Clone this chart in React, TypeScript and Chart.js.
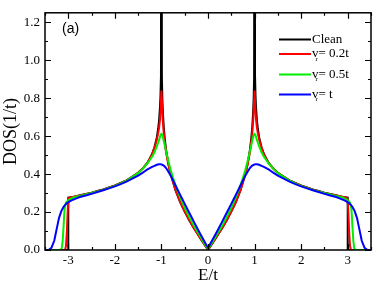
import { useEffect, useRef } from 'react';
import { Chart, registerables } from 'chart.js';

Chart.register(...registerables);

// ---- data ----
const xTickValues = [-3, -2, -1, 0, 1, 2, 3];
const yTickValues = [0, 0.2, 0.4, 0.6, 0.8, 1.0, 1.2];

const cleanE = [-3.5, -3.0, -3.0, -2.9, -2.75, -2.5, -2.25, -2.0, -1.75, -1.5, -1.4, -1.3, -1.2, -1.15, -1.1, -1.07, -1.05, -1.03, -1.02, -1.01, -1.0, -1.0, -0.99, -0.98, -0.97, -0.95, -0.93, -0.9, -0.85, -0.8, -0.7, -0.6, -0.5, -0.4, -0.3, -0.2, -0.1, 0,
  0.1, 0.2, 0.3, 0.4, 0.5, 0.6, 0.7, 0.8, 0.85, 0.9, 0.93, 0.95, 0.97, 0.98, 0.99, 1.0, 1.0, 1.01, 1.02, 1.03, 1.05, 1.07, 1.1, 1.15, 1.2, 1.3, 1.4, 1.5, 1.75, 2.0, 2.25, 2.5, 2.75, 2.9, 3.0, 3.0, 3.5];
const cleanDOS = [0, 0, 0.276, 0.280, 0.288, 0.302, 0.319, 0.340, 0.367, 0.407, 0.430, 0.460, 0.506, 0.541, 0.592, 0.639, 0.684, 0.756, 0.814, 0.916, 3.0, 3.0, 0.906, 0.796, 0.731, 0.647, 0.590, 0.527, 0.454, 0.399, 0.317, 0.254, 0.202, 0.156, 0.114, 0.075, 0.037, 0,
  0.037, 0.075, 0.114, 0.156, 0.202, 0.254, 0.317, 0.399, 0.454, 0.527, 0.590, 0.647, 0.731, 0.796, 0.906, 3.0, 3.0, 0.916, 0.814, 0.756, 0.684, 0.639, 0.592, 0.541, 0.506, 0.460, 0.430, 0.407, 0.367, 0.340, 0.319, 0.302, 0.288, 0.280, 0.276, 0, 0];

const red02E = [-3.5, -3.07, -3.05, -3.03, -3.01, -2.99, -2.9, -2.75, -2.5, -2.25, -2.0, -1.75, -1.5, -1.4, -1.3, -1.2, -1.15, -1.1, -1.07, -1.05, -1.03, -1.015, -1.0, -0.985, -0.97, -0.95, -0.93, -0.9, -0.85, -0.8, -0.7, -0.6, -0.5, -0.4, -0.3, -0.2, -0.1, 0,
  0.1, 0.2, 0.3, 0.4, 0.5, 0.6, 0.7, 0.8, 0.85, 0.9, 0.93, 0.95, 0.97, 0.985, 1.0, 1.015, 1.03, 1.05, 1.07, 1.1, 1.15, 1.2, 1.3, 1.4, 1.5, 1.75, 2.0, 2.25, 2.5, 2.75, 2.9, 2.99, 3.01, 3.03, 3.05, 3.07, 3.5];
const red02DOS = [0, 0, 0.02, 0.10, 0.22, 0.274, 0.279, 0.287, 0.301, 0.318, 0.339, 0.366, 0.406, 0.429, 0.459, 0.504, 0.538, 0.580, 0.615, 0.645, 0.690, 0.750, 0.840, 0.760, 0.680, 0.615, 0.570, 0.515, 0.449, 0.397, 0.317, 0.255, 0.203, 0.157, 0.115, 0.076, 0.038, 0.003,
  0.038, 0.076, 0.115, 0.157, 0.203, 0.255, 0.317, 0.397, 0.449, 0.515, 0.570, 0.615, 0.680, 0.760, 0.840, 0.750, 0.690, 0.645, 0.615, 0.580, 0.538, 0.504, 0.459, 0.429, 0.406, 0.366, 0.339, 0.318, 0.301, 0.287, 0.279, 0.274, 0.22, 0.10, 0.02, 0, 0];

const green05E = [-3.5, -3.17, -3.14, -3.12, -3.1, -3.08, -3.05, -3.0, -2.9, -2.75, -2.5, -2.25, -2.0, -1.75, -1.5, -1.4, -1.3, -1.2, -1.15, -1.1, -1.05, -1.02, -1.0, -0.98, -0.95, -0.9, -0.85, -0.8, -0.75, -0.7, -0.6, -0.5, -0.4, -0.3, -0.2, -0.1, 0,
  0.1, 0.2, 0.3, 0.4, 0.5, 0.6, 0.7, 0.75, 0.8, 0.85, 0.9, 0.95, 0.98, 1.0, 1.02, 1.05, 1.1, 1.15, 1.2, 1.3, 1.4, 1.5, 1.75, 2.0, 2.25, 2.5, 2.75, 2.9, 3.0, 3.05, 3.08, 3.1, 3.12, 3.14, 3.17, 3.5];
const green05DOS = [0, 0, 0.01, 0.05, 0.13, 0.215, 0.250, 0.262, 0.276, 0.285, 0.300, 0.317, 0.338, 0.365, 0.405, 0.429, 0.457, 0.492, 0.515, 0.545, 0.580, 0.605, 0.612, 0.605, 0.575, 0.520, 0.468, 0.420, 0.380, 0.343, 0.278, 0.222, 0.172, 0.127, 0.085, 0.043, 0.006,
  0.043, 0.085, 0.127, 0.172, 0.222, 0.278, 0.343, 0.380, 0.420, 0.468, 0.520, 0.575, 0.605, 0.612, 0.605, 0.580, 0.545, 0.515, 0.492, 0.457, 0.429, 0.405, 0.365, 0.338, 0.317, 0.300, 0.285, 0.276, 0.262, 0.250, 0.215, 0.13, 0.05, 0.01, 0, 0];

const blueTE = [-3.5, -3.42, -3.36, -3.3, -3.25, -3.2, -3.15, -3.1, -3.05, -3.0, -2.9, -2.75, -2.5, -2.25, -2.0, -1.75, -1.5, -1.4, -1.3, -1.2, -1.1, -1.05, -1.0, -0.95, -0.9, -0.8, -0.7, -0.6, -0.5, -0.4, -0.3, -0.2, -0.1, 0,
  0.1, 0.2, 0.3, 0.4, 0.5, 0.6, 0.7, 0.8, 0.9, 0.95, 1.0, 1.05, 1.1, 1.2, 1.3, 1.4, 1.5, 1.75, 2.0, 2.25, 2.5, 2.75, 2.9, 3.0, 3.05, 3.1, 3.15, 3.2, 3.25, 3.3, 3.36, 3.42, 3.5];
const blueTDOS = [0, 0, 0.012, 0.05, 0.11, 0.168, 0.205, 0.228, 0.243, 0.252, 0.265, 0.279, 0.296, 0.315, 0.335, 0.360, 0.392, 0.408, 0.425, 0.438, 0.449, 0.452, 0.451, 0.445, 0.432, 0.392, 0.341, 0.292, 0.243, 0.195, 0.147, 0.100, 0.055, 0.010,
  0.055, 0.100, 0.147, 0.195, 0.243, 0.292, 0.341, 0.392, 0.432, 0.445, 0.451, 0.452, 0.449, 0.438, 0.425, 0.408, 0.392, 0.360, 0.335, 0.315, 0.296, 0.279, 0.265, 0.252, 0.243, 0.228, 0.205, 0.168, 0.11, 0.05, 0.012, 0, 0];

const seriesNames = ['Clean', '0.2t', '0.5t', 't'];
const seriesColors = ['#000000', '#ff0000', '#00ee00', '#0000ff'];

const SERIF = "'Liberation Serif', 'Times New Roman', serif";
const SANS = "'Liberation Sans', Arial, sans-serif";

const toPoints = (xs: number[], ys: number[]) => xs.map((x, i) => ({ x, y: ys[i] }));

const framePlugin = {
  id: 'frameAndDecor',
  afterDraw(chart: any) {
    const { ctx, chartArea: a, scales } = chart;
    const xs = scales.x;
    const ys = scales.y;
    ctx.save();
    // frame
    ctx.strokeStyle = '#000';
    ctx.lineWidth = 1.5;
    ctx.strokeRect(a.left, a.top, a.right - a.left, a.bottom - a.top);
    // ticks (inward)
    ctx.lineWidth = 1.2;
    ctx.beginPath();
    for (let v = -3.5; v <= 3.5001; v += 0.5) {
      const px = Math.round(xs.getPixelForValue(v)) + 0.5;
      const major = Math.abs(v - Math.round(v)) < 1e-6;
      const len = major ? 6 : 3;
      ctx.moveTo(px, a.bottom); ctx.lineTo(px, a.bottom - len);
      ctx.moveTo(px, a.top); ctx.lineTo(px, a.top + len);
    }
    for (let k = 0; k <= 12; k++) {
      const v = k * 0.1;
      const py = Math.round(ys.getPixelForValue(v)) + 0.5;
      const len = k % 2 === 0 ? 6 : 3;
      ctx.moveTo(a.left, py); ctx.lineTo(a.left + len, py);
      ctx.moveTo(a.right, py); ctx.lineTo(a.right - len, py);
    }
    ctx.stroke();

    // axis titles
    ctx.fillStyle = '#000';
    ctx.textAlign = 'center';
    ctx.textBaseline = 'middle';
    ctx.font = `17px ${SERIF}`;
    ctx.fillText('E/t', (a.left + a.right) / 2, 276);
    ctx.save();
    ctx.translate(11, (a.top + a.bottom) / 2);
    ctx.rotate(-Math.PI / 2);
    ctx.font = `18px ${SERIF}`;
    ctx.fillText('DOS(1/t)', 0, 0);
    ctx.restore();

    // panel label
    ctx.textAlign = 'left';
    ctx.font = `14px ${SANS}`;
    ctx.fillText('(a)', 62, 29);

    // legend
    const rowsY = [39.5, 54, 74.5, 94.5];
    const lx0 = 279, lx1 = 311, tx = 312;
    for (let i = 0; i < seriesNames.length; i++) {
      const y = rowsY[i];
      ctx.strokeStyle = seriesColors[i];
      ctx.lineWidth = 2;
      ctx.beginPath();
      ctx.moveTo(lx0, y); ctx.lineTo(lx1, y);
      ctx.stroke();
      ctx.fillStyle = '#000';
      ctx.textBaseline = 'middle';
      ctx.font = `13px ${SERIF}`;
      if (i === 0) {
        ctx.fillText(seriesNames[i], tx, y);
      } else {
        ctx.fillText('v', tx, y);
        const vw = ctx.measureText('v').width;
        ctx.font = `7px ${SERIF}`;
        ctx.fillText('r', tx + vw - 3, y + 5);
        ctx.font = `13px ${SERIF}`;
        ctx.fillText('= ' + seriesNames[i], tx + vw, y);
      }
    }
    ctx.restore();
  },
};

export default function App() {
  const ref = useRef<HTMLCanvasElement | null>(null);
  useEffect(() => {
    if (!ref.current) return;
    const datasets = [
      { label: 'Clean', data: toPoints(cleanE, cleanDOS), order: 3 },
      { label: 'v_r = 0.2t', data: toPoints(red02E, red02DOS), order: 2 },
      { label: 'v_r = 0.5t', data: toPoints(green05E, green05DOS), order: 1 },
      { label: 'v_r = t', data: toPoints(blueTE, blueTDOS), order: 0 },
    ].map((d, i) => ({
      ...d,
      borderColor: seriesColors[i],
      backgroundColor: seriesColors[i],
      borderWidth: 2,
      pointRadius: 0,
      tension: 0.0001,
      fill: false,
    }));
    const chart = new Chart(ref.current, {
      type: 'line',
      data: { datasets },
      options: {
        animation: false,
        responsive: false,
        maintainAspectRatio: false,
        layout: { padding: { left: 0, right: 11, top: 7, bottom: 0 } },
        plugins: { legend: { display: false }, tooltip: { enabled: false } },
        scales: {
          x: {
            type: 'linear',
            min: -3.5,
            max: 3.5,
            grid: { display: false, drawTicks: false },
            border: { display: false },
            afterBuildTicks: (s: any) => { s.ticks = xTickValues.map((v) => ({ value: v })); },
            afterFit: (s: any) => { s.height = 36; },
            ticks: {
              padding: 3,
              color: '#000',
              font: { family: SERIF, size: 13 },
              maxRotation: 0,
              callback: (v: any) => String(v),
            },
          },
          y: {
            type: 'linear',
            min: 0,
            max: 1.25,
            grid: { display: false, drawTicks: false },
            border: { display: false },
            afterBuildTicks: (s: any) => { s.ticks = yTickValues.map((v) => ({ value: v })); },
            afterFit: (s: any) => { s.width = 45; },
            ticks: {
              padding: 5,
              color: '#000',
              font: { family: SERIF, size: 13 },
              callback: (v: any) => Number(v).toFixed(1),
            },
          },
        },
      },
      plugins: [framePlugin],
    });
    return () => chart.destroy();
  }, []);
  return (
    <div style={{ position: 'fixed', left: 0, top: 0, width: 382, height: 286, background: '#fff' }}>
      <canvas ref={ref} width={382} height={286} style={{ width: 382, height: 286, display: 'block' }} />
    </div>
  );
}
